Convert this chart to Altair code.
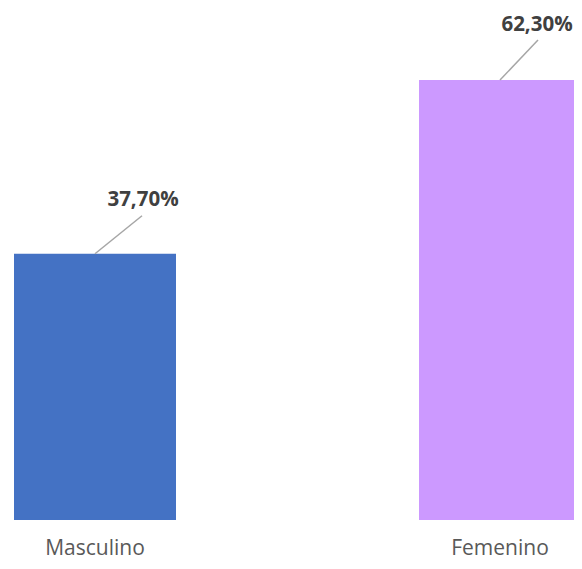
import altair as alt
import pandas as pd

categories = ["Masculino", "Femenino"]
values = [37.70, 62.30]
labels = ["37,70%", "62,30%"]
colors = ["#4472C4", "#CC99FF"]

df = pd.DataFrame({"cat": categories, "val": values, "label": labels})

x = alt.X("cat:N", sort=categories,
          scale=alt.Scale(range=[6, 573], paddingInner=0.6, paddingOuter=0),
          axis=alt.Axis(title=None, domain=False, ticks=False, tickSize=0, labelAngle=0,
                        labelFont="Open Sans", labelFontSize=21, labelColor="#595959",
                        labelBaseline="alphabetic", labelPadding=34))
y = alt.Y("val:Q", scale=alt.Scale(domain=[0, 72.5], nice=False), axis=None)

base = alt.Chart(df)

bars = base.mark_bar().encode(
    x=x, y=y,
    color=alt.Color("cat:N", scale=alt.Scale(domain=categories, range=colors), legend=None),
)

# label offsets (pixels) per category: (leader dx, leader dy, text dx, text dy)
offsets = {"Masculino": (47, -38, 48, -48), "Femenino": (38, -40, 37, -49)}

layers = [bars]
for cat, (ldx, ldy, tdx, tdy) in offsets.items():
    sub = base.transform_filter(alt.datum.cat == cat)
    layers.append(sub.mark_rule(color="#A6A6A6", strokeWidth=1.5, x2Offset=ldx, y2Offset=ldy).encode(
        x=alt.X("cat:N", sort=categories), x2="cat:N", y="val:Q", y2="val:Q"))
    layers.append(sub.mark_text(font="Open Sans", fontSize=20.5, fontWeight="bold", color="#404040",
                                dx=tdx, dy=tdy, baseline="alphabetic", align="center").encode(
        x=alt.X("cat:N", sort=categories), y="val:Q", text="label:N"))

chart = alt.layer(*layers).properties(
    width=566, height=512,
    autosize=alt.AutoSizeParams(type="none"),
    padding={"left": 0, "top": 0, "right": 0, "bottom": 41},
).configure_view(stroke=None)

chart.save("out.html", embed_options={"renderer": "svg", "actions": False})
